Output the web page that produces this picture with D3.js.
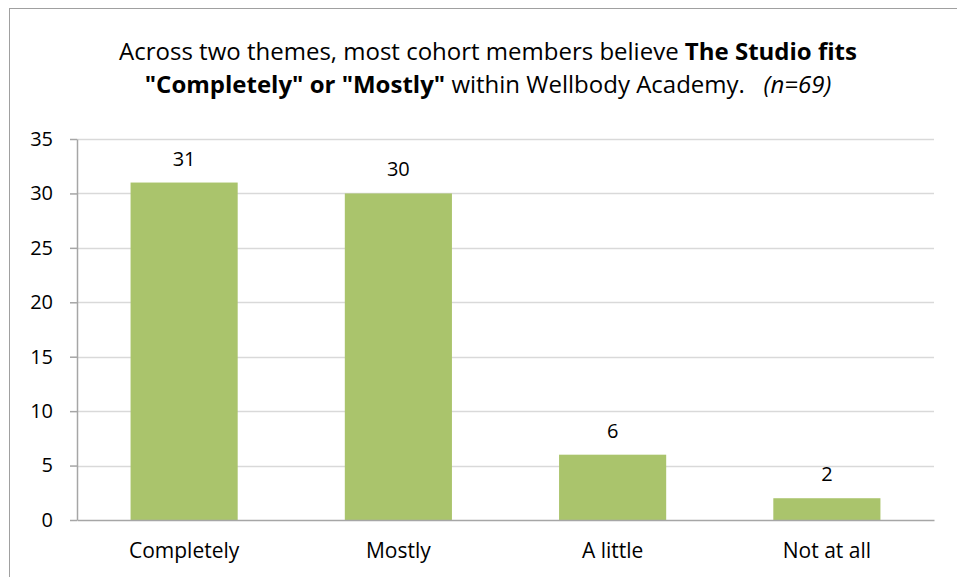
<!DOCTYPE html>
<html>
<head>
<meta charset="utf-8">
<script src="https://cdn.jsdelivr.net/npm/d3@7"></script>
<style>
  body { margin: 0; background: #fff; }
  svg { display: block; font-family: "Open Sans", Lato, sans-serif; }
</style>
</head>
<body>
<svg id="chart" width="957" height="577"></svg>
<script>
const categories = ['Completely', 'Mostly', 'A little', 'Not at all']
const counts = [31, 30, 6, 2]
const yTicks = [0, 5, 10, 15, 20, 25, 30, 35]

const BAR_COLOR = '#aac46c'
const GRID_COLOR = '#d9d9d9'
const AXIS_COLOR = '#a6a6a6'
const FONT = '"Open Sans", Lato, sans-serif'

const svg = d3.select('#chart')
const margin = {left: 77, right: 23, top: 139, bottom: 57}
const width = 957 - margin.left - margin.right
const height = 577 - margin.top - margin.bottom

// outer chart frame
svg.append('rect')
    .attr('x', 9.5).attr('y', 8.5)
    .attr('width', 957).attr('height', 577)
    .attr('fill', 'none')
    .attr('stroke', '#a0a0a0')

// title
const title = svg.append('text')
    .attr('text-anchor', 'middle')
    .attr('font-size', 24)
    .attr('fill', '#000')
    .style('white-space', 'pre')
const line1 = title.append('tspan').attr('x', 488).attr('y', 60)
line1.append('tspan').text('Across two themes, most cohort members believe ')
line1.append('tspan').attr('font-weight', 'bold').text('The Studio fits')
const line2 = title.append('tspan').attr('x', 488).attr('y', 93)
line2.append('tspan').attr('font-weight', 'bold').text('"Completely" or "Mostly"')
line2.append('tspan').text(' within Wellbody Academy.   ')
line2.append('tspan').attr('font-style', 'italic').text('(n=69)')

const g = svg.append('g').attr('transform', `translate(${margin.left},${margin.top})`)

const x = d3.scaleBand().domain(categories).range([0, width]).paddingInner(0.5).paddingOuter(0.25)
const y = d3.scaleLinear().domain([0, 35]).range([height, 0])

// gridlines
g.append('g')
    .selectAll('line')
    .data(yTicks.filter(d => d > 0))
    .join('line')
        .attr('x1', 0).attr('x2', width)
        .attr('y1', d => Math.round(y(d)) + 0.5)
        .attr('y2', d => Math.round(y(d)) + 0.5)
        .attr('stroke', GRID_COLOR)
        .attr('stroke-width', 1.5)

// y axis
const yAxis = g.append('g')
    .call(d3.axisLeft(y).tickValues(yTicks).tickSize(7).tickPadding(17).tickSizeOuter(0))
yAxis.select('.domain').attr('stroke', AXIS_COLOR).attr('stroke-width', 1.5)
yAxis.selectAll('.tick line').attr('stroke', AXIS_COLOR).attr('stroke-width', 1.5)
yAxis.selectAll('.tick text')
    .attr('font-size', 20)
    .attr('font-family', FONT)
    .attr('fill', '#000')

// bars
g.append('g')
    .selectAll('rect')
    .data(counts)
    .join('rect')
        .attr('x', (d, i) => x(categories[i]))
        .attr('y', d => y(d))
        .attr('width', x.bandwidth())
        .attr('height', d => height - y(d))
        .attr('fill', BAR_COLOR)

// value labels
g.append('g')
    .selectAll('text')
    .data(counts)
    .join('text')
        .attr('x', (d, i) => x(categories[i]) + x.bandwidth() / 2)
        .attr('y', d => y(d) - 17)
        .attr('text-anchor', 'middle')
        .attr('font-size', 20)
        .attr('fill', '#000')
        .text(d => d)

// x axis
const xAxis = g.append('g')
    .attr('transform', `translate(0,${height})`)
    .call(d3.axisBottom(x).tickSize(0).tickPadding(23).tickSizeOuter(0))
xAxis.select('.domain').attr('stroke', AXIS_COLOR).attr('stroke-width', 1.5)
xAxis.selectAll('.tick text')
    .attr('font-size', 21)
    .attr('font-family', FONT)
    .attr('fill', '#000')
</script>
</body>
</html>
